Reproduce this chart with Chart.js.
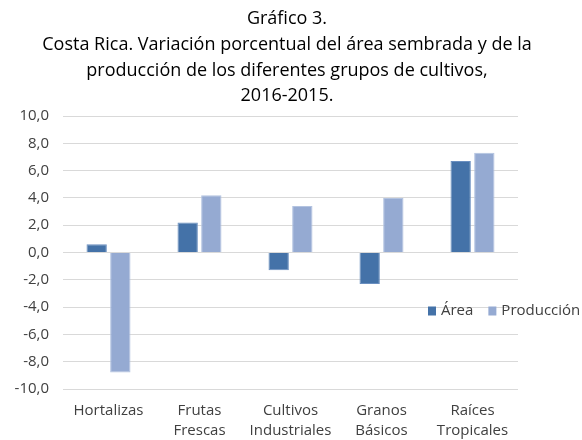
<!DOCTYPE html>
<html>
<head>
<meta charset="utf-8">
<script src="https://cdn.jsdelivr.net/npm/chart.js@4/dist/chart.umd.min.js"></script>
<style>
html,body{margin:0;padding:0;background:#fff;}
#wrap{width:582px;height:440px;position:relative;}
</style>
</head>
<body>
<div id="wrap"><canvas id="c" width="582" height="440"></canvas></div>
<script>
const categories = [["Hortalizas"], ["Frutas", "Frescas"], ["Cultivos", "Industriales"], ["Granos", "Básicos"], ["Raíces", "Tropicales"]];
const areaValues = [0.6, 2.2, -1.3, -2.3, 6.7];
const produccionValues = [-8.8, 4.2, 3.4, 4.0, 7.3];
const seriesNames = ["Área", "Producción"];
const titleLines = ["Gráfico 3.", "Costa Rica. Variación porcentual del área sembrada y de la", "producción de los diferentes grupos de cultivos,", "2016-2015."];
const yMin = -10, yMax = 10, yStep = 2;

const colors = ["#4472A8", "#95AAD2"];
const borderColors = ["#6A8FC0", "#B3C3E0"];
const FONT = "'Open Sans', 'Noto Sans', sans-serif";

const customTitle = {
  id: 'customTitle',
  afterDraw(chart) {
    const ctx = chart.ctx;
    ctx.save();
    ctx.font = "18px " + FONT;
    ctx.fillStyle = '#000';
    ctx.textAlign = 'center';
    ctx.textBaseline = 'middle';
    const ys = [19, 45, 71, 96];
    titleLines.forEach((t, i) => ctx.fillText(t, 287, ys[i]));
    ctx.restore();
  }
};

const customLegend = {
  id: 'customLegend',
  afterDraw(chart) {
    const ctx = chart.ctx;
    ctx.save();
    ctx.font = "15px " + FONT;
    ctx.textBaseline = 'middle';
    let x = 428;
    const y = 311;
    chart.data.datasets.forEach((ds, i) => {
      ctx.fillStyle = ds.backgroundColor;
      ctx.fillRect(x, y - 4.5, 8, 9);
      ctx.fillStyle = '#404040';
      ctx.textAlign = 'left';
      ctx.fillText(ds.label, x + 13, y);
      x += 13 + ctx.measureText(ds.label).width + 15;
    });
    ctx.restore();
  }
};

new Chart(document.getElementById('c'), {
  type: 'bar',
  data: {
    labels: categories,
    datasets: [
      { label: seriesNames[0], data: areaValues, backgroundColor: colors[0], borderColor: borderColors[0], borderWidth: 1 },
      { label: seriesNames[1], data: produccionValues, backgroundColor: colors[1], borderColor: borderColors[1], borderWidth: 1 }
    ]
  },
  options: {
    responsive: false,
    animation: false,
    layout: { padding: { left: 0, right: 64, top: 116, bottom: 0 } },
    categoryPercentage: 0.52,
    barPercentage: 0.86,
    plugins: {
      legend: { display: false },
      tooltip: { enabled: false },
      title: { display: false }
    },
    scales: {
      x: {
        grid: { display: false, drawTicks: false },
        border: { display: false },
        ticks: { color: '#404040', font: { family: FONT, size: 15, lineHeight: 1.3 }, padding: 12, maxRotation: 0, autoSkip: false },
        afterFit(scale) { scale.height = 51; }
      },
      y: {
        min: yMin, max: yMax,
        grid: { color: '#D9D9D9', lineWidth: 1, drawTicks: false },
        border: { display: false },
        ticks: {
          stepSize: yStep,
          color: '#404040',
          font: { family: FONT, size: 15 },
          padding: 14,
          callback: v => v.toFixed(1).replace('.', ',')
        },
        afterFit(scale) { scale.width = 63; }
      }
    }
  },
  plugins: [customTitle, customLegend]
});
</script>
</body>
</html>
